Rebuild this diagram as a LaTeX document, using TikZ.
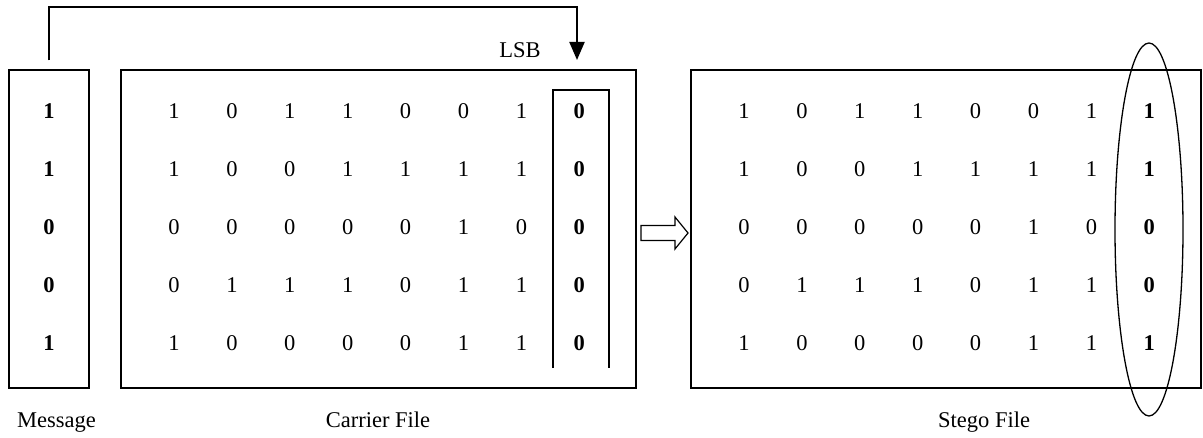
\documentclass[tikz,border=0pt]{standalone}
\usepackage{fontspec}
\setmainfont{Liberation Serif}
\usetikzlibrary{arrows.meta,shapes.geometric}
\begin{document}
\begin{tikzpicture}[x=1pt,y=1pt,
  box/.style={draw, line width=1.2pt, inner sep=0pt, minimum height=318pt},
  dig/.style={anchor=base, inner sep=0pt, font=\fontsize{22.5}{27}\selectfont},
  bdig/.style={anchor=base, inner sep=0pt, font=\fontsize{22.5}{27}\selectfont\bfseries},
  lbl/.style={anchor=base, inner sep=0pt, font=\fontsize{22.5}{27}\selectfont},
  heavy/.style={line width=2pt},
  blockarrow/.style={draw, line width=1.2pt, line join=miter},
  lsbring/.style={draw, ellipse, line width=1.3pt, inner sep=0pt}
]
\useasboundingbox (0,0) rectangle (1203,437);

% boxes
\node[box, minimum width=80pt] (msg) at (49,208) {};
\node[box, minimum width=515pt] (carrier) at (378.5,208) {};
\node[box, minimum width=510pt] (stego) at (946,208) {};

% carrier and stego bits (first seven columns)
\foreach \row [count=\r from 0] in {{1,0,1,1,0,0,1},{1,0,0,1,1,1,1},{0,0,0,0,0,1,0},{0,1,1,1,0,1,1},{1,0,0,0,0,1,1}} {
  \foreach \v [count=\c from 0] in \row {
    \node[dig] (c-\r-\c) at ({174+57.9*\c},{318-57.75*\r}) {\v};
    \node[dig] (s-\r-\c) at ({744+57.9*\c},{318-57.75*\r}) {\v};
  }
}

% message bits and least significant bits
\foreach \m/\lsbv/\st [count=\r from 0] in {1/0/1,1/0/1,0/0/0,0/0/0,1/0/1} {
  \node[bdig] (m-\r) at (49,{318-57.75*\r}) {\m};
  \node[bdig] (c-\r-7) at (579.3,{318-57.75*\r}) {\lsbv};
  \node[bdig] (s-\r-7) at (1149.3,{318-57.75*\r}) {\st};
}

% LSB bracket
\coordinate (lsbtop) at (577,347);
\draw[heavy] (553,69) |- (609,347) -- (609,69);
\node[lbl] (lsb) at (520,379) {LSB};

% top arrow from message to LSB column
\draw[heavy, -{Triangle[length=18pt,width=15pt]}]
  ([yshift=9pt]msg.north) -- ++(0,53) -| ([yshift=30pt]lsbtop);

% block arrow from carrier to stego
\coordinate (ba) at (641,204);
\draw[blockarrow] (ba) ++(0,-7.5) -- ++(34,0) -- ++(0,-8.5) -- ++(13,16) -- ++(-13,16) -- ++(0,-8.5) -- ++(-34,0) -- cycle;

% ellipse round the stego LSB column
\node[lsbring, minimum width=68pt, minimum height=373pt] (ring) at (1149,207.5) {};

% labels
\node[lbl, anchor=base west] (msglbl) at (17,9.5) {Message};
\node[lbl] (carlbl) at (378,9.5) {Carrier File};
\node[lbl, anchor=base west] (steglbl) at (938,9.5) {Stego File};
\end{tikzpicture}
\end{document}
